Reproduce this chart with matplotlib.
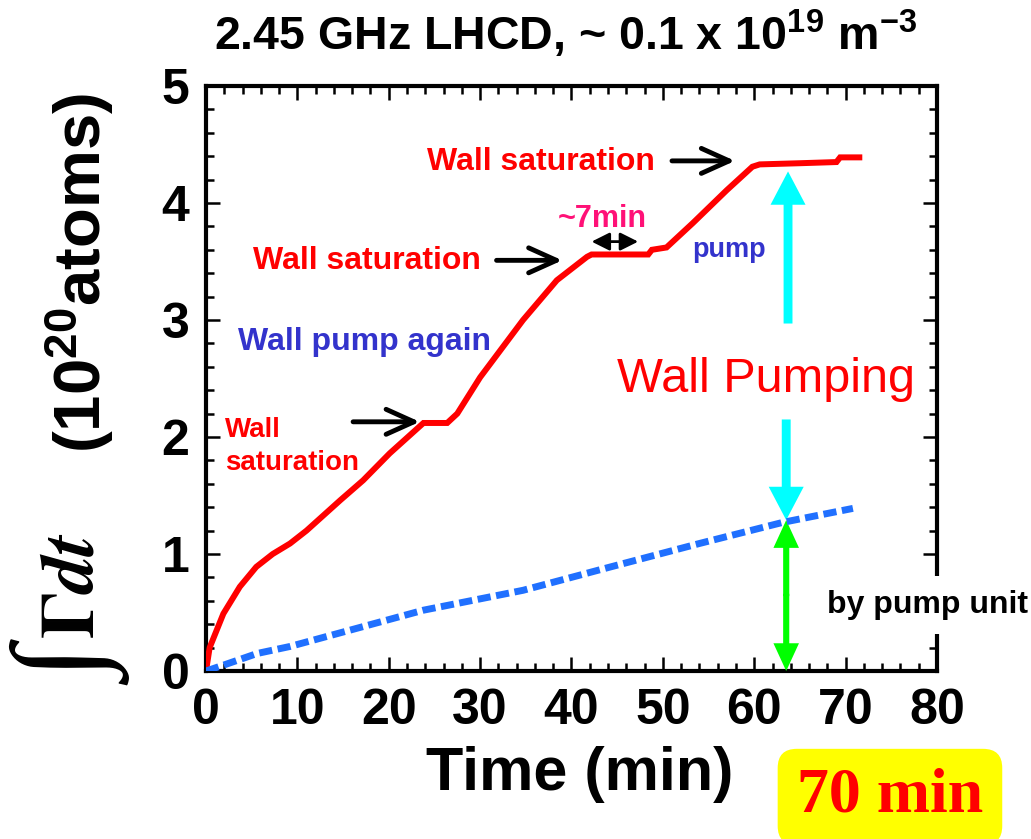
import matplotlib
matplotlib.use("Agg")
import matplotlib.pyplot as plt

plt.rcParams['font.family'] = ['Liberation Sans', 'DejaVu Sans']
plt.rcParams['font.weight'] = 'bold'
plt.rcParams['mathtext.default'] = 'regular'

# data
red_t = [0, 0.4, 1.9, 3.7, 5.5, 7.3, 9.2, 11, 14.7, 17.2, 20.1, 23.8, 26.4, 27.5, 30,
         34.7, 38.4, 41.7, 42.2, 48.4, 48.8, 50.4, 53.3, 57, 59.8, 60.6, 65, 69, 69.4, 71.5]
red_n = [0, 0.2, 0.49, 0.72, 0.89, 1.0, 1.09, 1.2, 1.46, 1.63, 1.86, 2.12, 2.12, 2.2, 2.51,
         3.0, 3.34, 3.54, 3.56, 3.56, 3.6, 3.62, 3.83, 4.11, 4.31, 4.33, 4.34, 4.35, 4.39, 4.39]
pump_t = [0, 1.9, 5.6, 9.2, 23.8, 34.7, 43.8, 54, 63.1, 70.8]
pump_n = [0, 0.05, 0.15, 0.21, 0.52, 0.69, 0.88, 1.09, 1.27, 1.39]

x_ticks = [0, 10, 20, 30, 40, 50, 60, 70, 80]
y_ticks = [0, 1, 2, 3, 4, 5]

fig = plt.figure(figsize=(10.31, 8.39), dpi=100)
ax = fig.add_axes([0.1998, 0.2002, 0.709, 0.6973])

ax.plot(red_t, red_n, color='#ff0000', lw=4.3, solid_joinstyle='miter', zorder=4)
ax.plot(pump_t, pump_n, color='#2070ff', lw=5, dashes=(1.9, 0.8), zorder=4)

ax.set_xlim(0, 80)
ax.set_ylim(0, 5)
ax.set_xticks(x_ticks)
ax.set_yticks(y_ticks)
ax.set_xticks(range(0, 81, 2), minor=True)
ax.set_yticks([i * 0.2 for i in range(26)], minor=True)
ax.tick_params(which='both', direction='in', top=True, right=True, width=1.8)
ax.tick_params(which='major', length=10, labelsize=36, pad=12)
ax.tick_params(which='minor', length=6)
for s in ax.spines.values():
    s.set_linewidth(3)

# black pointer arrows
black = dict(arrowstyle='->,head_length=0.4,head_width=0.18', mutation_scale=50,
             lw=3.5, color='black', shrinkA=0, shrinkB=0)
ax.annotate('', xy=(23.4, 2.13), xytext=(16.1, 2.13), arrowprops=black)
ax.annotate('', xy=(39.0, 3.51), xytext=(31.8, 3.51), arrowprops=black)
ax.annotate('', xy=(57.9, 4.36), xytext=(51.0, 4.36), arrowprops=black)
ax.annotate('', xy=(47.3, 3.67), xytext=(42.2, 3.67),
            arrowprops=dict(arrowstyle='<|-|>,head_length=0.6,head_width=0.3',
                            mutation_scale=18, lw=2, color='black', shrinkA=0, shrinkB=0))

# wall pumping / pump unit arrows
cyan = dict(arrowstyle='simple,head_length=1.2,head_width=1.26,tail_width=0.32',
            mutation_scale=20, color='#00ffff', lw=0, shrinkA=0, shrinkB=0)
ax.annotate('', xy=(63.7, 4.27), xytext=(63.7, 2.97), arrowprops=cyan)
ax.annotate('', xy=(63.5, 1.29), xytext=(63.5, 2.15), arrowprops=cyan)
green = dict(arrowstyle='simple,head_length=1.0,head_width=0.92,tail_width=0.22',
             mutation_scale=20, color='#00ff00', lw=0, shrinkA=0, shrinkB=0)
ax.annotate('', xy=(63.5, 1.29), xytext=(63.5, 0.64), arrowprops=green)
ax.annotate('', xy=(63.5, 0.0), xytext=(63.5, 0.66), arrowprops=green)

# annotations
ax.text(24.18, 4.28, 'Wall saturation', color='red', fontsize=23, va='baseline')
ax.text(5.14, 3.436, 'Wall saturation', color='red', fontsize=23, va='baseline')
ax.text(3.5, 2.744, 'Wall pump again', color='#3333cc', fontsize=23, va='baseline')
ax.text(2.08, 2.0, 'Wall', color='red', fontsize=20, va='baseline')
ax.text(2.08, 1.718, 'saturation', color='red', fontsize=20, va='baseline')
ax.text(38.5, 3.795, '~7min', color='#ff1177', fontsize=22, va='baseline')
ax.text(53.2, 3.54, 'pump', color='#3333cc', fontsize=19.5, va='baseline')
ax.text(45.0, 2.385, 'Wall Pumping', color='red', fontsize=35, fontweight='normal',
        va='baseline')
ax.text(67.95, 0.496, 'by pump unit', color='black', fontsize=23, va='baseline', zorder=5,
        bbox=dict(boxstyle='square,pad=0.45', fc='white', ec='none'))

# titles and labels
fig.text(0.548, 0.9404, '2.45 GHz LHCD, ~ 0.1 x 10$^{19}$ m$^{-3}$', fontsize=33.5,
         ha='center', va='baseline')
fig.text(0.562, 0.0584, 'Time (min)', fontsize=44, ha='center', va='baseline')
fig.text(76 / 1031, 1 - 668 / 839, '\u222b', fontsize=88, rotation=90,
         family=['Liberation Serif', 'DejaVu Serif'], fontweight='normal',
         ha='center', va='center')
fig.text(74 / 1031, 1 - 585 / 839, r'$\mathrm{\Gamma}\mathit{dt}$', fontsize=54, rotation=90,
         ha='center', va='center', math_fontfamily='stix')
fig.text(80 / 1031, 1 - 273 / 839, '(10$^{20}$atoms)', fontsize=47, rotation=90,
         ha='center', va='center')
fig.text(0.8632, 0.0322, '70 min', fontsize=46, color='red', family='Liberation Serif',
         ha='center', va='baseline',
         bbox=dict(boxstyle='round,pad=0.3', fc='yellow', ec='none'))

fig.savefig('out.png', dpi=100)
